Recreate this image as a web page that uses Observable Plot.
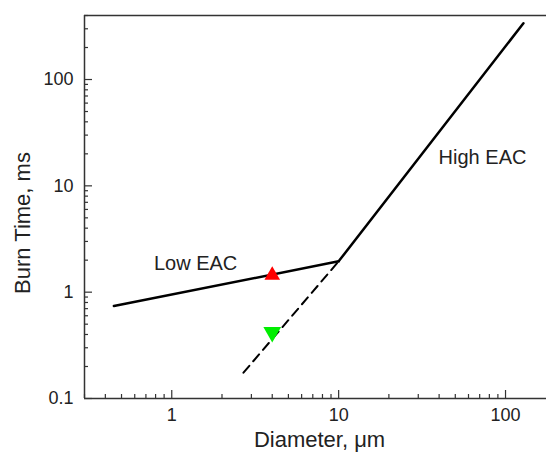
<!DOCTYPE html>
<html>
<head>
<meta charset="utf-8">
<script src="https://cdn.jsdelivr.net/npm/d3@7"></script>
<script src="https://cdn.jsdelivr.net/npm/@observablehq/plot@0.6"></script>
<style>
  html, body { margin: 0; padding: 0; background: #fff; }
  #chart { width: 546px; height: 460px; }
</style>
</head>
<body>
<div id="chart"></div>
<script>
// Data
const lowD = [0.45, 10];
const lowT = [0.74, 1.95];
const highD = [10, 128];
const highT = [1.95, 338];
const dashD = [2.69, 10];
const dashT = [0.175, 1.95];
const redD = [4.0];
const redT = [1.44];
const greenD = [4.0];
const greenT = [0.42];
const labelText = ["Low EAC", "High EAC"];
const labelD = [1.39, 72.8];
const labelT = [1.87, 18.5];
const xMajor = [1, 10, 100];
const xMinor = [0.3, 0.4, 0.5, 0.6, 0.7, 0.8, 0.9, 2, 3, 4, 5, 6, 7, 8, 9, 20, 30, 40, 50, 60, 70, 80, 90];
const yMajor = [0.1, 1, 10, 100];
const yMinor = [0.2, 0.3, 0.4, 0.5, 0.6, 0.7, 0.8, 0.9, 2, 3, 4, 5, 6, 7, 8, 9, 20, 30, 40, 50, 60, 70, 80, 90, 200, 300, 400];
const xTitle = "Diameter, μm";
const yTitle = "Burn Time, ms";

const W = 546, H = 460;
const mL = 84, mR = 0, mT = 15, mB = 62;
const pw = W - mL - mR, ph = H - mT - mB;

const pairs = (xs, ys) => xs.map((x, i) => ({x, y: ys[i]}));

const chart = Plot.plot({
  width: W,
  height: H,
  marginLeft: mL,
  marginRight: mR,
  marginTop: mT,
  marginBottom: mB,
  style: {fontFamily: "'Liberation Sans', Arial, sans-serif", background: "#fff", color: "#222"},
  x: {type: "log", domain: [0.3, 176], axis: null},
  y: {type: "log", domain: [0.1, 400], axis: null},
  marks: [
    Plot.ruleX([0.3], {stroke: "#333", strokeWidth: 1.5}),
    Plot.ruleY([0.1, 400], {stroke: "#333", strokeWidth: 1.5}),
    Plot.tickX(xMajor, {x: d => d, insetTop: ph - 8, stroke: "#333", strokeWidth: 1.2}),
    Plot.tickX(xMinor, {x: d => d, insetTop: ph - 4, stroke: "#333", strokeWidth: 1.2}),
    Plot.tickY(yMajor, {y: d => d, insetRight: pw - 8, stroke: "#333", strokeWidth: 1.2}),
    Plot.tickY(yMinor, {y: d => d, insetRight: pw - 4, stroke: "#333", strokeWidth: 1.2}),
    Plot.axisX(xMajor, {tickSize: 0, tickPadding: 10, fontSize: 18, tickFormat: d => String(d), label: null, fill: "#222"}),
    Plot.axisY(yMajor, {tickSize: 0, tickPadding: 11, fontSize: 18, tickFormat: d => String(d), label: null, fill: "#222"}),
    Plot.line(pairs(lowD, lowT), {x: "x", y: "y", stroke: "#000", strokeWidth: 2.5}),
    Plot.line(pairs(highD, highT), {x: "x", y: "y", stroke: "#000", strokeWidth: 2.5}),
    Plot.line(pairs(dashD, dashT), {x: "x", y: "y", stroke: "#000", strokeWidth: 2, strokeDasharray: "9,6"}),
    Plot.dot(pairs(redD, redT), {x: "x", y: "y", symbol: "triangle", r: 5.8, fill: "#ff0000", stroke: "none"}),
    Plot.dot(pairs(greenD, greenT), {x: "x", y: "y", symbol: "triangle", r: 6.6, rotate: 180, fill: "#00ee00", stroke: "none"}),
    Plot.text(labelText, {x: labelD, y: labelT, text: d => d, fontSize: 20, fill: "#222"}),
    Plot.text([xTitle], {frameAnchor: "bottom", dy: 41, dx: 4, text: d => d, fontSize: 22, fill: "#222", lineAnchor: "middle", textAnchor: "middle"}),
    Plot.text([yTitle], {frameAnchor: "left", dx: -62, dy: 16, rotate: -90, text: d => d, fontSize: 22, fill: "#222", lineAnchor: "middle", textAnchor: "middle"})
  ]
});
document.getElementById("chart").appendChild(chart);
</script>
</body>
</html>
